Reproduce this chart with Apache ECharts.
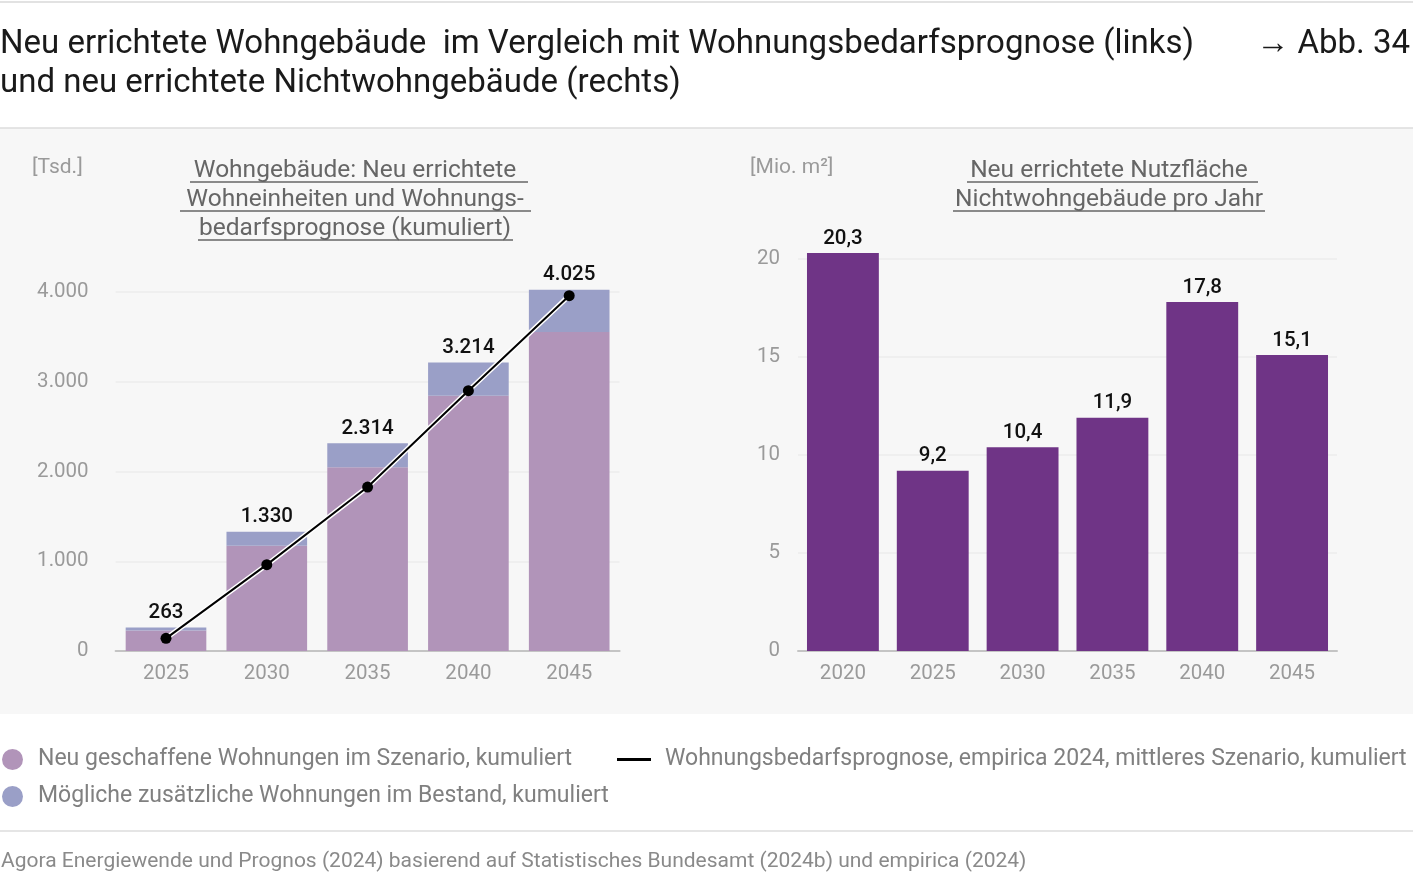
<!DOCTYPE html>
<html>
<head>
<meta charset="utf-8">
<script src="https://cdn.jsdelivr.net/npm/echarts@6/dist/echarts.min.js"></script>
<style>
  html, body { margin: 0; padding: 0; background: #fff; }
  #chart { width: 1413px; height: 894px; }
</style>
</head>
<body>
<div id="chart"></div>
<script>
// Daten links: Wohngebäude (Tsd., kumuliert)
const leftYears = ['2025', '2030', '2035', '2040', '2045'];
const neuGeschaffen = [228, 1173, 2047, 2845, 3554];
const bestand = [35, 157, 267, 369, 471];
const summeLabels = [263, 1330, 2314, 3214, 4025];
const bedarfsprognose = [141, 962, 1827, 2900, 3959];

// Daten rechts: Nichtwohngebäude (Mio. m² pro Jahr)
const rightYears = ['2020', '2025', '2030', '2035', '2040', '2045'];
const nutzflaeche = [20.3, 9.2, 10.4, 11.9, 17.8, 15.1];

const leftTicks = [0, 1000, 2000, 3000, 4000];
const rightTicks = [0, 5, 10, 15, 20];

const FONT = 'Roboto';
const GREY = '#9a9a9a';

const nameNeu = 'Neu geschaffene Wohnungen im Szenario, kumuliert';
const nameBestand = 'Mögliche zusätzliche Wohnungen im Bestand, kumuliert';
const nameLinie = 'Wohnungsbedarfsprognose, empirica 2024, mittleres Szenario, kumuliert';

const fmtDe = v => v.toLocaleString('de-DE');

const chart = echarts.init(document.getElementById('chart'));

// Unterstreichung der Untertitel
const underline = (x1, x2, y) => ({
  type: 'line',
  shape: { x1, y1: y, x2, y2: y },
  style: { stroke: '#666', lineWidth: 1.3 }
});

const legendText = { fontSize: 23, color: '#808080', fontFamily: FONT };

const option = {
  backgroundColor: '#fff',
  textStyle: { fontFamily: FONT },
  animation: false,
  graphic: [
    { type: 'rect', z: -10, shape: { x: 0, y: 128, width: 1413, height: 586 }, style: { fill: '#f7f7f7' } },
    { type: 'line', shape: { x1: 0, y1: 2, x2: 1413, y2: 2 }, style: { stroke: '#d9d9d9', lineWidth: 1.5 } },
    { type: 'line', shape: { x1: 0, y1: 128, x2: 1413, y2: 128 }, style: { stroke: '#dcdcdc', lineWidth: 1.5 } },
    { type: 'line', shape: { x1: 0, y1: 831, x2: 1413, y2: 831 }, style: { stroke: '#dcdcdc', lineWidth: 1.5 } },
    {
      type: 'text', left: 0, top: 25,
      style: {
        text: 'Neu errichtete Wohngebäude  im Vergleich mit Wohnungsbedarfsprognose (links)\nund neu errichtete Nichtwohngebäude (rechts)',
        font: '33px ' + FONT, fill: '#1a1a1a', lineHeight: 39
      }
    },
    {
      type: 'text', right: 3, top: 25,
      style: { text: '→ Abb. 34', font: '33px ' + FONT, fill: '#1a1a1a', lineHeight: 39 }
    },
    {
      type: 'text', left: 32, top: 157,
      style: { text: '[Tsd.]', font: '21px ' + FONT, fill: GREY }
    },
    {
      type: 'text', left: 750, top: 157,
      style: { text: '[Mio. m²]', font: '21px ' + FONT, fill: GREY }
    },
    {
      type: 'text', x: 355, y: 156,
      style: {
        text: 'Wohngebäude: Neu errichtete\nWohneinheiten und Wohnungs-\nbedarfsprognose (kumuliert)',
        font: '24.5px ' + FONT, fill: '#666', align: 'center', lineHeight: 29
      }
    },
    underline(190, 528, 182), underline(180, 531, 211), underline(198, 513, 240),
    {
      type: 'text', x: 1109, y: 156,
      style: {
        text: 'Neu errichtete Nutzfläche\nNichtwohngebäude pro Jahr',
        font: '24.5px ' + FONT, fill: '#666', align: 'center', lineHeight: 29
      }
    },
    underline(967, 1258, 182), underline(953, 1265, 211),
    {
      type: 'text', left: 1, top: 851,
      style: {
        text: 'Agora Energiewende und Prognos (2024) basierend auf Statistisches Bundesamt (2024b) und empirica (2024)',
        font: '21px ' + FONT, fill: '#8a8a8a'
      }
    }
  ],
  legend: [
    {
      left: 2, top: 748, padding: 0, data: [nameNeu], icon: 'circle', itemWidth: 21, itemHeight: 21,
      textStyle: Object.assign({ padding: [0, 0, 0, 10] }, legendText)
    },
    {
      left: 2, top: 785, padding: 0, data: [nameBestand], icon: 'circle', itemWidth: 21, itemHeight: 21,
      textStyle: Object.assign({ padding: [0, 0, 0, 10] }, legendText)
    },
    {
      left: 617, top: 748, padding: 0, data: [{ name: nameLinie, icon: 'rect', itemStyle: { color: '#000' } }],
      itemWidth: 34, itemHeight: 3,
      textStyle: Object.assign({ padding: [0, 0, 0, 9] }, legendText)
    }
  ],
  grid: [
    { left: 115.6, right: 793.4, top: 292, bottom: 243 },
    { left: 798, right: 76, top: 259, bottom: 243 }
  ],
  xAxis: [
    {
      type: 'category', gridIndex: 0, data: leftYears,
      axisLine: { lineStyle: { color: '#c4c4c4', width: 2 } },
      axisTick: { show: false },
      axisLabel: { color: GREY, fontSize: 20.5, margin: 12, fontFamily: FONT }
    },
    {
      type: 'category', gridIndex: 1, data: rightYears,
      axisLine: { lineStyle: { color: '#c4c4c4', width: 2 } },
      axisTick: { show: false },
      axisLabel: { color: GREY, fontSize: 20.5, margin: 12, fontFamily: FONT }
    }
  ],
  yAxis: [
    {
      type: 'value', gridIndex: 0, min: 0, max: 4000, interval: 1000,
      axisLine: { show: false }, axisTick: { show: false },
      splitLine: { lineStyle: { color: '#ededed', width: 1.5 } },
      axisLabel: {
        color: GREY, fontSize: 20.5, margin: 27, fontFamily: FONT,
        formatter: v => leftTicks.includes(v) ? fmtDe(v) : ''
      }
    },
    {
      type: 'value', gridIndex: 1, min: 0, max: 20, interval: 5,
      axisLine: { show: false }, axisTick: { show: false },
      splitLine: { lineStyle: { color: '#ededed', width: 1.5 } },
      axisLabel: {
        color: GREY, fontSize: 20.5, margin: 18, fontFamily: FONT,
        formatter: v => rightTicks.includes(v) ? String(v) : ''
      }
    }
  ],
  series: [
    {
      name: nameNeu, type: 'bar', stack: 'links', xAxisIndex: 0, yAxisIndex: 0,
      data: neuGeschaffen, barCategoryGap: '20%', clip: false,
      itemStyle: { color: '#b194b9' }
    },
    {
      name: nameBestand, type: 'bar', stack: 'links', xAxisIndex: 0, yAxisIndex: 0,
      data: bestand, clip: false,
      itemStyle: { color: '#9a9fc7' },
      label: {
        show: true, position: 'top', distance: 4, color: '#111', fontSize: 20.5, fontWeight: 500,
        fontFamily: FONT,
        formatter: p => fmtDe(summeLabels[p.dataIndex])
      }
    },
    {
      name: 'halo', type: 'line', xAxisIndex: 0, yAxisIndex: 0, data: bedarfsprognose,
      showSymbol: false, clip: false, silent: true,
      lineStyle: { color: '#fff', width: 5 }, z: 3
    },
    {
      name: nameLinie, type: 'line', xAxisIndex: 0, yAxisIndex: 0, data: bedarfsprognose,
      symbol: 'circle', symbolSize: 11, clip: false, z: 4,
      lineStyle: { color: '#000', width: 2 }, itemStyle: { color: '#000' }
    },
    {
      name: 'Nutzfläche', type: 'bar', xAxisIndex: 1, yAxisIndex: 1, data: nutzflaeche,
      barCategoryGap: '20%', clip: false,
      itemStyle: { color: '#6f3486' },
      label: {
        show: true, position: 'top', distance: 4, color: '#111', fontSize: 20.5, fontWeight: 500,
        fontFamily: FONT,
        formatter: p => p.value.toLocaleString('de-DE', { minimumFractionDigits: 1 })
      }
    }
  ]
};

chart.setOption(option);
</script>
</body>
</html>
